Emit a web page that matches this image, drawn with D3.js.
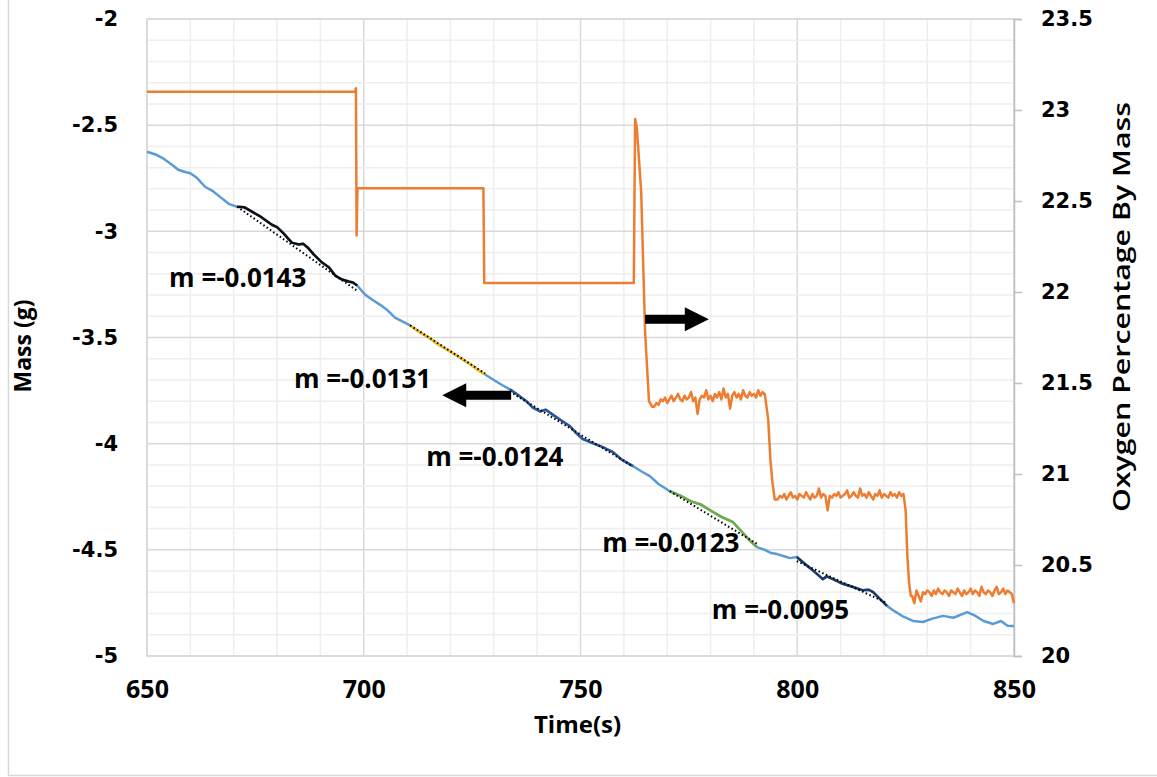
<!DOCTYPE html>
<html>
<head>
<meta charset="utf-8">
<script src="https://cdn.jsdelivr.net/npm/d3@7"></script>
<style>
  body { margin: 0; background: #fff; }
  svg { display: block; }
</style>
</head>
<body>
<div id="chart"></div>
<script>
// mass (g) vs time (s)
const massTime = [650, 652, 654, 656, 657.2, 659, 660, 661.5, 663.4, 665, 667, 669, 670.8, 672.5, 674, 676, 678.8, 680, 681.5, 683.4, 685, 686, 687.1, 688.5, 690.4, 692, 693.5, 695, 696.5, 697.5, 698.5, 700.3, 702, 703.7, 705.5, 707.2, 709, 710.7, 712, 713, 715, 717, 719.9, 721.5, 723, 725, 726.5, 728, 730, 732, 733.7, 735.5, 737.5, 739, 740.7, 742, 743.5, 745.5, 747.6, 749, 750.6, 752.5, 755, 757.5, 759.5, 762.1, 764, 766, 768, 770.6, 773, 775.5, 777.6, 780, 782.5, 785.2, 787, 789, 790.7, 792.5, 794, 795.3, 797, 798.3, 799.9, 802, 803.8, 805.9, 806.8, 808.5, 810.5, 812.9, 815, 816.5, 817.5, 819, 820.7, 822.5, 824.5, 826.7, 829, 831, 833.6, 836, 839.2, 841, 843, 845.2, 847, 848.5, 850];
const massValue = [-2.625, -2.638, -2.660, -2.690, -2.710, -2.722, -2.726, -2.748, -2.790, -2.808, -2.840, -2.872, -2.884, -2.887, -2.905, -2.928, -2.969, -2.980, -3.010, -3.053, -3.062, -3.058, -3.077, -3.110, -3.147, -3.170, -3.210, -3.227, -3.236, -3.241, -3.255, -3.298, -3.322, -3.345, -3.372, -3.406, -3.425, -3.443, -3.462, -3.476, -3.500, -3.530, -3.566, -3.585, -3.606, -3.632, -3.655, -3.674, -3.700, -3.725, -3.744, -3.770, -3.800, -3.830, -3.848, -3.840, -3.862, -3.890, -3.918, -3.950, -3.979, -3.995, -4.015, -4.040, -4.075, -4.106, -4.130, -4.153, -4.190, -4.224, -4.245, -4.272, -4.285, -4.315, -4.345, -4.370, -4.410, -4.455, -4.487, -4.500, -4.515, -4.520, -4.530, -4.539, -4.534, -4.570, -4.600, -4.638, -4.625, -4.640, -4.660, -4.675, -4.690, -4.688, -4.699, -4.730, -4.764, -4.790, -4.815, -4.835, -4.840, -4.825, -4.811, -4.820, -4.793, -4.810, -4.835, -4.849, -4.835, -4.858, -4.859];

// oxygen percentage by mass: steps and transitions
const oxyStepTime = [650, 698.0, 698.2, 698.35, 698.55, 727.6, 727.8, 762.3, 762.6, 763.0, 764.0, 764.9, 765.8, 766.5];
const oxyStepValue = [23.10, 23.10, 23.12, 22.31, 22.57, 22.57, 22.05, 22.05, 22.95, 22.90, 22.55, 21.78, 21.40, 21.37];
// noisy plateaus, sampled every 0.5 s
const plateauStep = 0.5;
const plateau1Start = 767;
const plateau1 = [21.37, 21.39, 21.38, 21.41, 21.40, 21.42, 21.39, 21.41, 21.43, 21.40, 21.42, 21.44, 21.41, 21.40, 21.43, 21.41, 21.42, 21.45, 21.40, 21.42, 21.33, 21.41, 21.43, 21.42, 21.46, 21.41, 21.43, 21.40, 21.44, 21.42, 21.45, 21.41, 21.47, 21.42, 21.44, 21.36, 21.43, 21.45, 21.42, 21.44, 21.41, 21.46, 21.43, 21.42, 21.45, 21.43, 21.44, 21.42, 21.46, 21.43, 21.45, 21.44];
const drop1Time = [793.3, 793.8, 794.3, 794.8];
const drop1Value = [21.30, 21.08, 20.95, 20.86];
const plateau2Start = 795.5;
const plateau2 = [20.86, 20.88, 20.87, 20.89, 20.86, 20.88, 20.90, 20.87, 20.88, 20.86, 20.89, 20.88, 20.87, 20.90, 20.88, 20.86, 20.89, 20.87, 20.88, 20.92, 20.87, 20.89, 20.88, 20.80, 20.88, 20.87, 20.89, 20.88, 20.90, 20.87, 20.88, 20.89, 20.91, 20.87, 20.88, 20.90, 20.88, 20.87, 20.92, 20.88, 20.89, 20.87, 20.90, 20.88, 20.86, 20.89, 20.88, 20.91, 20.87, 20.89, 20.88, 20.87, 20.90, 20.88, 20.89, 20.87, 20.90, 20.88, 20.89];
const drop2Time = [825.0, 825.4, 825.8, 826.2];
const drop2Value = [20.80, 20.55, 20.40, 20.33];
const plateau3Start = 826.5;
const plateau3 = [20.33, 20.29, 20.36, 20.33, 20.30, 20.35, 20.34, 20.36, 20.35, 20.33, 20.36, 20.34, 20.37, 20.35, 20.34, 20.36, 20.35, 20.33, 20.36, 20.35, 20.34, 20.37, 20.35, 20.33, 20.36, 20.34, 20.35, 20.37, 20.34, 20.36, 20.35, 20.33, 20.38, 20.35, 20.34, 20.36, 20.35, 20.33, 20.36, 20.38, 20.34, 20.35, 20.37, 20.34, 20.36, 20.35, 20.34, 20.29];

// linear fits over parts of the mass curve
const fitStart = [670.8, 710.7, 733.7, 770.6, 799.9];
const fitEnd = [698.5, 728.0, 762.1, 790.7, 820.7];
const fitStartMass = [-2.884, -3.443, -3.755, -4.224, -4.553];
const fitSlope = [-0.0143, -0.0131, -0.0124, -0.0123, -0.0095];
const fitLabelTime = [655.1, 683.9, 714.4, 755.0, 780.3];
const fitLabelMass = [-3.26, -3.74, -4.106, -4.51, -4.826];

const xTicks = [650, 700, 750, 800, 850];
const leftTicks = [-2, -2.5, -3, -3.5, -4, -4.5, -5];
const rightTicks = [23.5, 23, 22.5, 22, 21.5, 21, 20.5, 20];

// build the oxygen series
const oxygen = [];
oxyStepTime.forEach((t, i) => oxygen.push([t, oxyStepValue[i]]));
plateau1.forEach((v, i) => oxygen.push([plateau1Start + i * plateauStep, v]));
drop1Time.forEach((t, i) => oxygen.push([t, drop1Value[i]]));
plateau2.forEach((v, i) => oxygen.push([plateau2Start + i * plateauStep, v]));
drop2Time.forEach((t, i) => oxygen.push([t, drop2Value[i]]));
plateau3.forEach((v, i) => oxygen.push([plateau3Start + i * plateauStep, v]));

const mass = massTime.map((t, i) => [t, massValue[i]]);

const W = 1157, H = 777;
const margin = { top: 19, right: 143, bottom: 121, left: 147 },
  width = W - margin.left - margin.right,
  height = H - margin.top - margin.bottom;

const svgRoot = d3.select("#chart").append("svg")
  .attr("width", W).attr("height", H);

// outer chart frame
svgRoot.append("rect")
  .attr("x", 8.5).attr("y", -5)
  .attr("width", 1160).attr("height", 780.5)
  .attr("fill", "none").attr("stroke", "#d9d9d9").attr("stroke-width", 1.5);

const svg = svgRoot.append("g")
  .attr("transform", `translate(${margin.left},${margin.top})`);

const x = d3.scaleLinear().domain([650, 850]).range([0, width]);
const yL = d3.scaleLinear().domain([-5, -2]).range([height, 0]);
const yR = d3.scaleLinear().domain([20, 23.5]).range([height, 0]);

// gridlines
const minorX = d3.range(650, 851, 10);
const minorY = d3.range(-50, -19, 1).map((d) => d / 10);
svg.append("g").selectAll("line").data(minorX).join("line")
  .attr("x1", (d) => x(d)).attr("x2", (d) => x(d))
  .attr("y1", 0).attr("y2", height)
  .attr("stroke", (d) => d % 50 === 0 ? "#d9d9d9" : "#eeeeee")
  .attr("stroke-width", 1.5);
svg.append("g").selectAll("line").data(minorY).join("line")
  .attr("x1", 0).attr("x2", width)
  .attr("y1", (d) => yL(d)).attr("y2", (d) => yL(d))
  .attr("stroke", (d) => Math.abs(d * 2 - Math.round(d * 2)) < 1e-6 ? "#d9d9d9" : "#eeeeee")
  .attr("stroke-width", 1.5);

// plot border
svg.append("rect")
  .attr("width", width).attr("height", height)
  .attr("fill", "none").attr("stroke", "#d9d9d9").attr("stroke-width", 1.5);

const plain = (d) => String(d);

// right axis
const rightAxis = svg.append("g")
  .attr("transform", `translate(${width},0)`)
  .call(d3.axisRight(yR).tickValues(rightTicks).tickSize(8).tickPadding(19).tickFormat(plain));
rightAxis.select(".domain").attr("stroke", "#bfbfbf").attr("stroke-width", 1.5);
rightAxis.selectAll(".tick line").attr("stroke", "#bfbfbf").attr("stroke-width", 1.5);
rightAxis.selectAll("text")
  .style("font-family", "DejaVu Sans").style("font-weight", "bold")
  .style("font-size", "21px").attr("fill", "#000");

// left axis (labels only)
const leftAxis = svg.append("g")
  .call(d3.axisLeft(yL).tickValues(leftTicks).tickSize(0).tickPadding(29).tickFormat(plain));
leftAxis.select(".domain").remove();
leftAxis.selectAll("text")
  .style("font-family", "DejaVu Sans").style("font-weight", "bold")
  .style("font-size", "21px").attr("fill", "#000");

// bottom axis (labels only)
const bottomAxis = svg.append("g")
  .attr("transform", `translate(0,${height})`)
  .call(d3.axisBottom(x).tickValues(xTicks).tickSize(0).tickPadding(24));
bottomAxis.select(".domain").remove();
bottomAxis.selectAll("text")
  .style("font-family", "Open Sans").style("font-weight", "bold")
  .style("font-size", "25px").attr("fill", "#000");

// lines
const line = (yScale) => d3.line().x((d) => x(d[0])).y((d) => yScale(d[1]));

svg.append("path").datum(oxygen)
  .attr("fill", "none").attr("stroke", "#ed7d31").attr("stroke-width", 2.5)
  .attr("stroke-linejoin", "round")
  .attr("d", line(yR));

svg.append("path").datum(mass)
  .attr("fill", "none").attr("stroke", "#5b9bd5").attr("stroke-width", 2.5)
  .attr("stroke-linejoin", "round")
  .attr("d", line(yL));

// highlighted fit ranges
const fitColors = ["#111111", "#ffc000", "#2f5597", "#70ad47", "#1f3864"];
fitStart.forEach((t0, i) => {
  const seg = mass.filter((d) => d[0] >= t0 - 0.01 && d[0] <= fitEnd[i] + 0.01);
  svg.append("path").datum(seg)
    .attr("fill", "none").attr("stroke", fitColors[i]).attr("stroke-width", 2.5)
    .attr("stroke-linejoin", "round")
    .attr("d", line(yL));
  const fit = [[t0, fitStartMass[i]], [fitEnd[i], fitStartMass[i] + fitSlope[i] * (fitEnd[i] - t0)]];
  svg.append("path").datum(fit)
    .attr("fill", "none").attr("stroke", "#000").attr("stroke-width", 2)
    .attr("stroke-dasharray", "1.5,2.5")
    .attr("d", line(yL));
  svg.append("text")
    .attr("x", x(fitLabelTime[i])).attr("y", yL(fitLabelMass[i]))
    .style("font-family", "Open Sans").style("font-weight", "bold")
    .style("font-size", "26px")
    .text(`m =${fitSlope[i]}`);
});

// arrows pointing to each axis' series
function arrow(tTail, tTip, yPix) {
  const xt = x(tTail), xp = x(tTip);
  const dir = Math.sign(xp - xt);
  const head = 24;
  const pts = [
    [xt, yPix - 4.5], [xp - dir * head, yPix - 4.5], [xp - dir * head, yPix - 12],
    [xp, yPix], [xp - dir * head, yPix + 12], [xp - dir * head, yPix + 4.5], [xt, yPix + 4.5]
  ];
  svg.append("polygon").attr("points", pts.map((p) => p.join(",")).join(" ")).attr("fill", "#000");
}
arrow(764.9, 779.6, yR(21.85));
arrow(734.0, 718.1, yL(-3.772));

// axis titles
svgRoot.append("text")
  .attr("x", margin.left + width / 2 - 3).attr("y", 733)
  .attr("text-anchor", "middle")
  .style("font-family", "Open Sans").style("font-weight", "bold").style("font-size", "24px")
  .text("Time(s)");
svgRoot.append("text")
  .attr("transform", `translate(31,346) rotate(-90)`)
  .attr("text-anchor", "middle")
  .style("font-family", "Open Sans").style("font-weight", "bold").style("font-size", "23px")
  .text("Mass (g)");
svgRoot.append("text")
  .attr("transform", `translate(1130,307) rotate(-90)`)
  .attr("text-anchor", "middle")
  .attr("textLength", 410).attr("lengthAdjust", "spacingAndGlyphs")
  .style("font-family", "Open Sans").style("font-weight", "600").style("font-size", "24px")
  .text("Oxygen Percentage By Mass");
</script>
</body>
</html>
